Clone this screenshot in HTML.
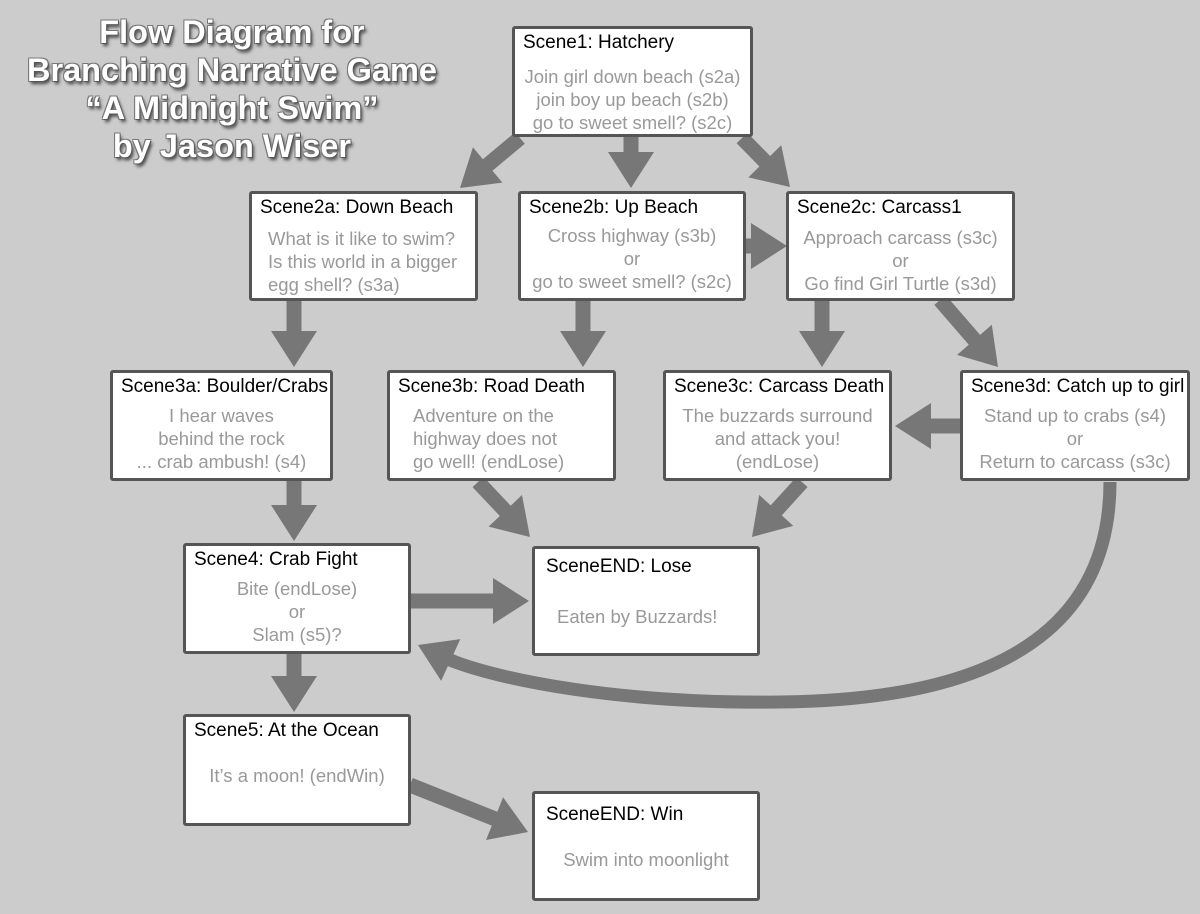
<!DOCTYPE html>
<html><head><meta charset="utf-8"><style>
body{margin:0;width:1200px;height:914px;background:#cccccc;position:relative;overflow:hidden;font-family:"Liberation Sans",Arial,sans-serif}
.b{position:absolute;background:#fff;border:3px solid #555;border-radius:3px;box-sizing:border-box}
.h{position:absolute;left:8px;top:3px;font-size:19px;color:#000;white-space:nowrap}
.t{position:absolute;left:0;right:0;text-align:center;font-size:18.5px;line-height:23px;color:#999;white-space:nowrap}
.title{position:absolute;left:0;width:464px;top:13px;text-align:center;font-weight:bold;font-size:32.5px;line-height:38px;color:#fff;text-shadow:1px 1px 0 #555,-1px -1px 0 #777,1px -1px 0 #777,-1px 1px 0 #777,2px 3px 3px #444}
svg{position:absolute;left:0;top:0}
</style></head><body>
<div class="title">Flow Diagram for<br>Branching Narrative Game<br>“A Midnight Swim”<br>by Jason Wiser</div>
<svg id="s" width="1200" height="914">
<path d="M1110,482 C1110,640 980,700 780,702 C620,704 500,680 450,660" stroke="#777" stroke-width="13" fill="none"/>
</svg>
<script>
var s=document.getElementById('s');
function A(x1,y1,x2,y2,w,L,H){w=w||15;L=L||36;H=H||23;
var dx=x2-x1,dy=y2-y1,d=Math.hypot(dx,dy),ux=dx/d,uy=dy/d,px=-uy,py=ux;
var bx=x2-ux*L,by=y2-uy*L;
var pts=[[x1+px*w/2,y1+py*w/2],[bx+px*w/2,by+py*w/2],[bx+px*H,by+py*H],[x2,y2],[bx-px*H,by-py*H],[bx-px*w/2,by-py*w/2],[x1-px*w/2,y1-py*w/2]];
var p=document.createElementNS('http://www.w3.org/2000/svg','polygon');
p.setAttribute('points',pts.map(function(q){return q[0]+','+q[1]}).join(' '));p.setAttribute('fill','#777');s.appendChild(p);}
A(520,138,460,188);A(631,136,631,188);A(742,138,790,187);A(745,246,787,246);
A(294,300,294,367);A(583,300,583,367);A(822,300,822,367);A(940,300,998,367);
A(960,426,895,426);A(294,480,294,541);A(478,482,530,537);A(802,482,752,537);
A(410,601,529,601);A(294,653,294,712);A(410,785,528,832);
A(455,662,418,645,13,36,23);
</script>
<div class="b" style="left:512px;top:26px;width:241px;height:111px"><div class="h">Scene1: Hatchery</div><div class="t" style="top:36px">Join girl down beach (s2a)<br>join boy up beach (s2b)<br>go to sweet smell? (s2c)</div></div>
<div class="b" style="left:249px;top:191px;width:229px;height:110px"><div class="h">Scene2a: Down Beach</div><div class="t" style="top:33px;left:16px;text-align:left">What is it like to swim?<br>Is this world in a bigger<br>egg shell? (s3a)</div></div>
<div class="b" style="left:518px;top:191px;width:228px;height:110px"><div class="h">Scene2b: Up Beach</div><div class="t" style="top:30px">Cross highway (s3b)<br>or<br>go to sweet smell? (s2c)</div></div>
<div class="b" style="left:786px;top:191px;width:229px;height:110px"><div class="h">Scene2c: Carcass1</div><div class="t" style="top:32px">Approach carcass (s3c)<br>or<br>Go find Girl Turtle (s3d)</div></div>
<div class="b" style="left:110px;top:370px;width:223px;height:111px"><div class="h">Scene3a: Boulder/Crabs</div><div class="t" style="top:31px">I hear waves<br>behind the rock<br>... crab ambush! (s4)</div></div>
<div class="b" style="left:387px;top:370px;width:229px;height:111px"><div class="h">Scene3b: Road Death</div><div class="t" style="top:31px;left:23px;text-align:left">Adventure on the<br>highway does not<br>go well! (endLose)</div></div>
<div class="b" style="left:663px;top:370px;width:229px;height:111px"><div class="h">Scene3c: Carcass Death</div><div class="t" style="top:31px">The buzzards surround<br>and attack you!<br>(endLose)</div></div>
<div class="b" style="left:960px;top:370px;width:230px;height:111px"><div class="h">Scene3d: Catch up to girl</div><div class="t" style="top:31px">Stand up to crabs (s4)<br>or<br>Return to carcass (s3c)</div></div>
<div class="b" style="left:183px;top:543px;width:228px;height:111px"><div class="h">Scene4: Crab Fight</div><div class="t" style="top:31px">Bite (endLose)<br>or<br>Slam (s5)?</div></div>
<div class="b" style="left:532px;top:546px;width:228px;height:110px"><div class="h" style="left:11px;top:7px">SceneEND: Lose</div><div class="t" style="top:56px;left:22px;text-align:left">Eaten by Buzzards!</div></div>
<div class="b" style="left:183px;top:714px;width:228px;height:112px"><div class="h">Scene5: At the Ocean</div><div class="t" style="top:47px">It’s a moon! (endWin)</div></div>
<div class="b" style="left:532px;top:791px;width:228px;height:110px"><div class="h" style="left:11px;top:10px">SceneEND: Win</div><div class="t" style="top:54px">Swim into moonlight</div></div>
</body></html>
